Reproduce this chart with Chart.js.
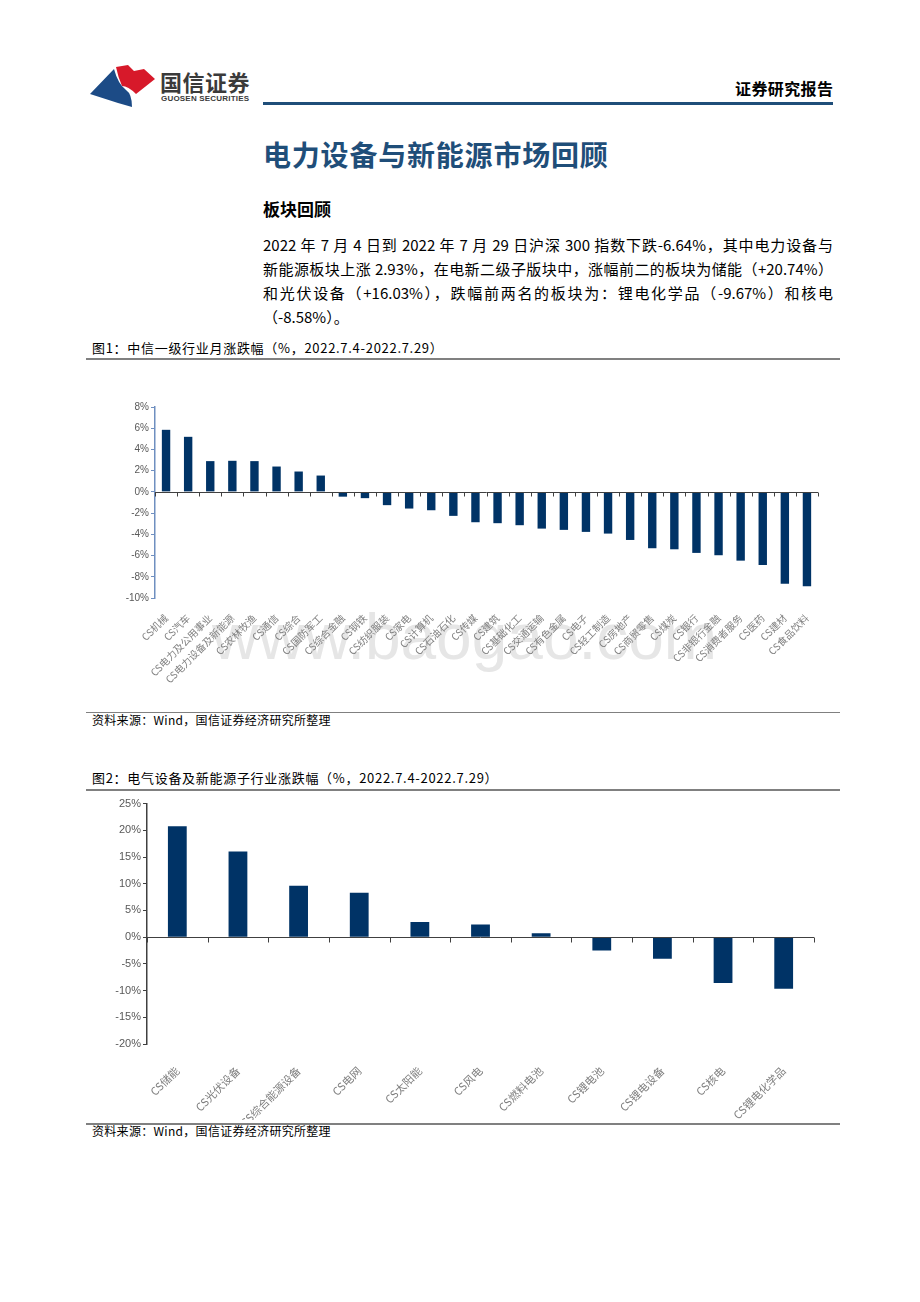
<!DOCTYPE html>
<html>
<head>
<meta charset="utf-8">
<script src="https://cdn.jsdelivr.net/npm/chart.js@4.4.1/dist/chart.umd.min.js"></script>
<style>
  html, body { margin: 0; padding: 0; background: #fff; }
  body { width: 920px; height: 1302px; position: relative; overflow: hidden;
         font-family: "Noto Sans CJK SC", "Noto Sans", sans-serif; color: #000; }
  .abs { position: absolute; }
  .brand { left: 160px; top: 65px; font-size: 22px; font-weight: bold; color: #3a3a3a; letter-spacing: 0.5px; }
  .brand-en { left: 161px; top: 94px; font-family: "Liberation Sans", sans-serif; font-size: 8px; font-weight: bold; color: #3a3a3a; letter-spacing: 0.2px; }
  .report { left: 735px; top: 76px; font-size: 16px; font-weight: bold; letter-spacing: 0.4px; }
  .topline { left: 263px; top: 102px; width: 570px; height: 3px; background: #1f4e79; }
  .title { left: 263px; top: 134px; font-size: 28px; font-weight: bold; color: #1f4e79; letter-spacing: 0.8px; }
  .sub { left: 263px; top: 196px; font-size: 17px; font-weight: bold; }
  .para { left: 263px; top: 233px; width: 570px; font-size: 15px; line-height: 24px; }
  .para div { text-align: justify; text-align-last: justify; white-space: nowrap; }
  .para div.last { text-align-last: left; }
  .cap { left: 92px; font-size: 13px; letter-spacing: 0.7px; }
  .rule { left: 86px; width: 754px; height: 1px; background: #808080; }
  .src { left: 92px; font-size: 12px; letter-spacing: 0.3px; }
  .wm { left: 212px; top: 600px; font-family: "Liberation Sans", sans-serif; font-size: 64px; color: #e6e6e6; }
  .box { position: absolute; }
</style>
</head>
<body>
<svg class="abs" style="left:88px;top:63px" width="70" height="46" viewBox="0 0 70 46">
  <path d="M28 4 L40 2 L46 8 L56 6 L67 16 L48 31 Q40 23 34 23 Q30 14 28 4 Z" fill="#d7192a"/>
  <path d="M2 31 L26 6 Q30 21 38 27 Q44 31 44 44 L30 40 Z" fill="#1c4b86"/>
</svg>
<div class="abs brand">国信证券</div>
<div class="abs brand-en">GUOSEN SECURITIES</div>
<div class="abs report">证券研究报告</div>
<div class="abs topline"></div>

<div class="abs title">电力设备与新能源市场回顾</div>
<div class="abs sub">板块回顾</div>
<div class="abs para">
  <div>2022 年 7 月 4 日到 2022 年 7 月 29 日沪深 300 指数下跌-6.64%，其中电力设备与</div>
  <div>新能源板块上涨 2.93%，在电新二级子版块中，涨幅前二的板块为储能（+20.74%）</div>
  <div>和光伏设备（+16.03%），跌幅前两名的板块为：锂电化学品（-9.67%）和核电</div>
  <div class="last">（-8.58%）。</div>
</div>

<div class="abs cap" style="top:338px">图1：中信一级行业月涨跌幅（%，2022.7.4-2022.7.29）</div>
<div class="abs rule" style="top:358px;height:2px"></div>
<div class="abs wm">www.baogao.com</div>
<div class="box" style="left:100px;top:397px;width:730px;height:300px"><canvas id="industryChart"></canvas></div>
<div class="abs rule" style="top:712px"></div>
<div class="abs src" style="top:711px">资料来源：Wind，国信证券经济研究所整理</div>

<div class="abs cap" style="top:768px">图2：电气设备及新能源子行业涨跌幅（%，2022.7.4-2022.7.29）</div>
<div class="abs rule" style="top:789px;height:2px"></div>
<div class="box" style="left:90px;top:795px;width:740px;height:325px"><canvas id="subChart"></canvas></div>
<div class="abs rule" style="top:1123px;height:2px"></div>
<div class="abs src" style="top:1122px">资料来源：Wind，国信证券经济研究所整理</div>

<script>
// 图1 data
const industryNames = ['CS机械', 'CS汽车', 'CS电力及公用事业', 'CS电力设备及新能源', 'CS农林牧渔', 'CS通信', 'CS综合',
    'CS国防军工', 'CS综合金融', 'CS钢铁', 'CS纺织服装', 'CS家电', 'CS计算机', 'CS石油石化', 'CS传媒', 'CS建筑',
    'CS基础化工', 'CS交通运输', 'CS有色金属', 'CS电子', 'CS轻工制造', 'CS房地产', 'CS商贸零售', 'CS煤炭', 'CS银行',
    'CS非银行金融', 'CS消费者服务', 'CS医药', 'CS建材', 'CS食品饮料'];
const industryChange = [5.85, 5.19, 2.90, 2.93, 2.90, 2.39, 1.92, 1.54, -0.45, -0.59, -1.25, -1.57, -1.73, -2.26, -2.86,
    -2.95, -3.14, -3.46, -3.58, -3.77, -3.93, -4.53, -5.31, -5.41, -5.75, -5.97, -6.48, -6.89, -8.65, -8.90];
const industryTicks = { min: -10, max: 8, step: 2 };

// 图2 data
const subNames = ['CS储能', 'CS光伏设备', 'CS综合能源设备', 'CS电网', 'CS太阳能', 'CS风电', 'CS燃料电池',
    'CS锂电池', 'CS锂电设备', 'CS核电', 'CS锂电化学品'];
const subChange = [20.74, 16.03, 9.64, 8.33, 2.86, 2.36, 0.75, -2.49, -4.04, -8.58, -9.67];
const subTicks = { min: -20, max: 25, step: 5 };

const barColor = '#003366';

// zero line with small tick marks between categories
const zeroAxis = {
    id: 'zeroAxis',
    afterDatasetsDraw(chart, args, opts) {
        const { ctx, chartArea, scales: { x, y } } = chart;
        const y0 = Math.round(y.getPixelForValue(0)) + 0.5;
        ctx.save();
        ctx.strokeStyle = opts.color || '#404040';
        ctx.lineWidth = 1;
        ctx.beginPath();
        ctx.moveTo(chartArea.left, y0);
        ctx.lineTo(chartArea.right, y0);
        const n = chart.data.labels.length;
        for (let i = 0; i <= n; i++) {
            const px = Math.round(x.getPixelForValue(i - 0.5)) + 0.5;
            ctx.moveTo(px, y0);
            ctx.lineTo(px, y0 + (opts.len || 4));
        }
        ctx.stroke();
        ctx.restore();
    }
};

function makeChart(id, labels, values, t, o) {
    return new Chart(document.getElementById(id), {
        type: 'bar',
        data: {
            labels: labels,
            datasets: [{
                data: values,
                backgroundColor: barColor,
                borderWidth: 0,
                barPercentage: o.barPct,
                categoryPercentage: 1
            }]
        },
        options: {
            responsive: true,
            maintainAspectRatio: false,
            animation: false,
            layout: { padding: { top: o.padTop, right: o.padRight, left: 0, bottom: 0 } },
            plugins: {
                legend: { display: false },
                tooltip: { enabled: false },
                zeroAxis: { color: '#404040', len: o.tickLen }
            },
            scales: {
                x: {
                    grid: { display: false },
                    border: { display: false },
                    ticks: {
                        autoSkip: false,
                        maxRotation: 45,
                        minRotation: 45,
                        padding: o.xPad,
                        color: '#7f7f7f',
                        font: { family: '"Noto Sans CJK SC"', size: o.xFont }
                    },
                    afterFit: (s) => { s.height = o.xHeight; }
                },
                y: {
                    min: t.min,
                    max: t.max,
                    ticks: {
                        stepSize: t.step,
                        padding: 2,
                        color: '#595959',
                        font: { family: '"Liberation Sans"', size: o.yFont },
                        callback: (v) => v + '%'
                    },
                    grid: { drawOnChartArea: false, drawTicks: true, tickLength: 4, color: o.axisColor },
                    border: { color: o.axisColor, width: 1.5 },
                    afterFit: (s) => { s.width = o.yWidth; }
                }
            }
        },
        plugins: [zeroAxis]
    });
}

makeChart('industryChart', industryNames, industryChange, industryTicks, {
    barPct: 0.38, padTop: 10, padRight: 12, xHeight: 99, yWidth: 55,
    xFont: 10, yFont: 10, xPad: 6, tickLen: 4, axisColor: '#6f8fc0'
});

makeChart('subChart', subNames, subChange, subTicks, {
    barPct: 0.31, padTop: 8, padRight: 16, xHeight: 76, yWidth: 57,
    xFont: 11, yFont: 11, xPad: 12, tickLen: 5, axisColor: '#404040'
});
</script>
</body>
</html>
